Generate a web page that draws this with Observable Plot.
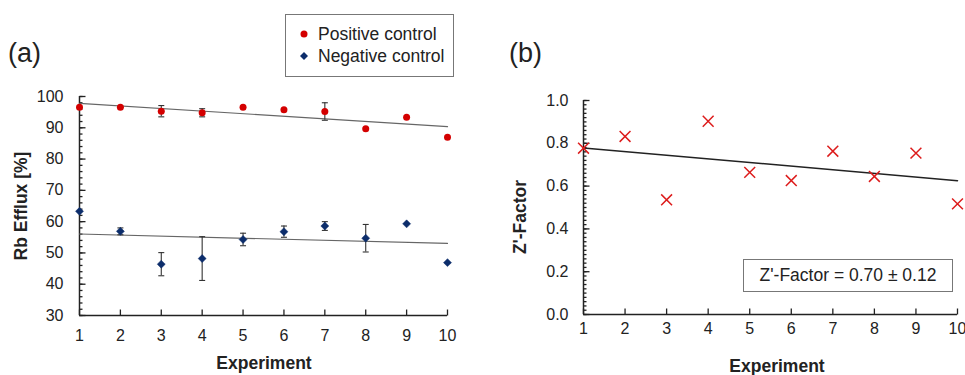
<!DOCTYPE html>
<html>
<head>
<meta charset="utf-8">
<script src="https://cdn.jsdelivr.net/npm/d3@7"></script>
<script src="https://cdn.jsdelivr.net/npm/@observablehq/plot@0.6"></script>
<style>
  html, body { margin: 0; padding: 0; background: #fff; overflow: hidden; }
  #wrap { position: relative; width: 965px; height: 375px; overflow: hidden; font-family: "Liberation Sans", Arial, sans-serif; color: #222; }
  .abs { position: absolute; white-space: nowrap; }
  .panel { font-size: 27px; line-height: 1; }
  .title { font-weight: bold; font-size: 17.5px; }
  .rot { transform: translate(-50%, -50%) rotate(-90deg); }
  .cx { transform: translate(-50%, -50%); }
  #legend { left: 285px; top: 14px; width: 167px; height: 61px; border: 1px solid #777; font-size: 17.5px; }
  #zbox { left: 743px; top: 259px; width: 208px; height: 31px; border: 1px solid #777; font-size: 17.5px; display: flex; align-items: center; justify-content: center; }
</style>
</head>
<body>
<div id="wrap">
  <div id="left" class="abs" style="left:0;top:0"></div>
  <div id="right" class="abs" style="left:483px;top:0"></div>
  <div class="abs panel" style="left:8px;top:40px">(a)</div>
  <div class="abs panel" style="left:509px;top:40px">(b)</div>
  <div class="abs title rot" style="left:21px;top:206px">Rb Efflux [%]</div>
  <div class="abs title rot" style="left:520px;top:217px">Z'-Factor</div>
  <div class="abs title cx" style="left:264px;top:363px">Experiment</div>
  <div class="abs title cx" style="left:777px;top:366px">Experiment</div>
  <div id="legend" class="abs"></div>
  <div id="zbox" class="abs">Z'-Factor = 0.70 ± 0.12</div>
</div>
<script>
// ---- data ----
const experiments = [1, 2, 3, 4, 5, 6, 7, 8, 9, 10];
const positiveMean = [96.6, 96.6, 95.3, 94.8, 96.6, 95.8, 95.2, 89.7, 93.4, 87.0];
const positiveErr  = [0, 0, 1.8, 1.3, 0, 0, 2.8, 0, 0, 0];
const negativeMean = [63.3, 56.9, 46.4, 48.2, 54.3, 56.8, 58.6, 54.7, 59.3, 46.9];
const negativeErr  = [0, 1.1, 3.7, 7.0, 2.0, 1.8, 1.4, 4.4, 0, 0];
const zFactor      = [0.777, 0.832, 0.536, 0.903, 0.664, 0.626, 0.763, 0.645, 0.754, 0.517];
const effluxTicks  = [30, 40, 50, 60, 70, 80, 90, 100];
const zTicks       = [0.0, 0.2, 0.4, 0.6, 0.8, 1.0];
const seriesNames  = ["Positive control", "Negative control"];
const seriesColors = ["#d40000", "#0c2d6b"];
const zColor = "#dd1c1c";

// ---- derived tables ----
const pos = experiments.map((x, i) => ({x, y: positiveMean[i], err: positiveErr[i]}));
const neg = experiments.map((x, i) => ({x, y: negativeMean[i], err: negativeErr[i]}));
const zrows = experiments.map((x, i) => ({x, z: zFactor[i]}));
const errRows = [...pos, ...neg].filter(d => d.err > 0);
const effluxMinor = d3.range(effluxTicks[0], effluxTicks[effluxTicks.length - 1] + 0.001, 2);
const zMinor = d3.range(0, 1.0001, 0.02);

// custom symbols (fixed pixel shapes)
const sym = (f) => ({draw(c) { f(c); }});
const tickRight = sym(c => { c.moveTo(0, 0); c.lineTo(6, 0); });
const tickRightMinor = sym(c => { c.moveTo(0, 0); c.lineTo(3, 0); });
const tickUp = sym(c => { c.moveTo(0, 0); c.lineTo(0, -6); });
const cap = sym(c => { c.moveTo(-3, 0); c.lineTo(3, 0); });

const baseStyle = {fontFamily: "'Liberation Sans', Arial, sans-serif", fontSize: "16px", color: "#222", background: "transparent", overflow: "visible"};
const tickStyle = {fill: "none", stroke: "#222", strokeWidth: 1.3, r: 2};

// ---- left panel ----
const left = Plot.plot({
  width: 480, height: 375,
  marginLeft: 79, marginRight: 33, marginTop: 96, marginBottom: 60,
  x: {domain: [experiments[0], experiments[experiments.length - 1]]},
  y: {domain: [effluxTicks[0], effluxTicks[effluxTicks.length - 1]]},
  style: baseStyle,
  marks: [
    Plot.axisX({ticks: experiments, tickSize: 0, tickPadding: 14, tickFormat: d => String(d), label: null, fontSize: 16}),
    Plot.axisY({ticks: effluxTicks, tickSize: 0, tickPadding: 16, tickFormat: d => String(d), label: null, fontSize: 16}),
    Plot.dot(effluxMinor, {x: experiments[0], y: d => d, symbol: tickRightMinor, ...tickStyle}),
    Plot.dot(effluxTicks, {x: experiments[0], y: d => d, symbol: tickRight, ...tickStyle}),
    Plot.dot(experiments, {x: d => d, y: effluxTicks[0], symbol: tickUp, ...tickStyle}),
    Plot.ruleX([experiments[0]], {stroke: "#222", strokeWidth: 1.5}),
    Plot.ruleY([effluxTicks[0]], {stroke: "#222", strokeWidth: 1.5}),
    Plot.linearRegressionY(pos, {x: "x", y: "y", ci: 0, stroke: "#666", strokeWidth: 1.2}),
    Plot.linearRegressionY(neg, {x: "x", y: "y", ci: 0, stroke: "#666", strokeWidth: 1.2}),
    Plot.ruleX(errRows, {x: "x", y1: d => d.y - d.err, y2: d => d.y + d.err, stroke: "#333", strokeWidth: 1.1}),
    Plot.dot(errRows, {x: "x", y: d => d.y - d.err, symbol: cap, fill: "none", stroke: "#333", strokeWidth: 1.1, r: 2}),
    Plot.dot(errRows, {x: "x", y: d => d.y + d.err, symbol: cap, fill: "none", stroke: "#333", strokeWidth: 1.1, r: 2}),
    Plot.dot(pos, {x: "x", y: "y", r: 3.5, fill: seriesColors[0], stroke: "none"}),
    Plot.dot(neg, {x: "x", y: "y", r: 3.6, symbol: "diamond2", fill: seriesColors[1], stroke: seriesColors[1], strokeWidth: 0.5})
  ]
});
document.getElementById("left").appendChild(left);

// ---- right panel ----
const right = Plot.plot({
  width: 482, height: 375,
  marginLeft: 100, marginRight: 8, marginTop: 100, marginBottom: 61,
  x: {domain: [experiments[0], experiments[experiments.length - 1]]},
  y: {domain: [zTicks[0], zTicks[zTicks.length - 1]]},
  style: baseStyle,
  marks: [
    Plot.axisX({ticks: experiments, tickSize: 0, tickPadding: 8, tickFormat: d => String(d), label: null, fontSize: 16}),
    Plot.axisY({ticks: zTicks, tickSize: 0, tickPadding: 15, tickFormat: d3.format(".1f"), label: null, fontSize: 16}),
    Plot.dot(zMinor, {x: experiments[0], y: d => d, symbol: tickRightMinor, ...tickStyle}),
    Plot.dot(zTicks, {x: experiments[0], y: d => d, symbol: tickRight, ...tickStyle}),
    Plot.dot(experiments, {x: d => d, y: zTicks[0], symbol: tickUp, ...tickStyle}),
    Plot.ruleX([experiments[0]], {stroke: "#222", strokeWidth: 1.5}),
    Plot.ruleY([zTicks[0]], {stroke: "#222", strokeWidth: 1.5}),
    Plot.linearRegressionY(zrows, {x: "x", y: "z", ci: 0, stroke: "#222", strokeWidth: 1.5}),
    Plot.dot(zrows, {x: "x", y: "z", r: 5, symbol: "times", stroke: zColor, strokeWidth: 1.5})
  ]
});
document.getElementById("right").appendChild(right);

// ---- legend ----
const legend = document.getElementById("legend");
const legendSymbols = [
  `<svg width="10" height="10" style="position:absolute;left:13px;top:-5px;overflow:visible"><circle cx="5" cy="5" r="3.5" fill="${seriesColors[0]}"/></svg>`,
  `<svg width="10" height="10" style="position:absolute;left:13px;top:-5px;overflow:visible"><path d="M5,1L9,5L5,9L1,5Z" fill="${seriesColors[1]}"/></svg>`
];
seriesNames.forEach((name, i) => {
  const row = document.createElement("div");
  row.style.cssText = `position:absolute;left:0;top:${19 + i * 22}px;height:0;`;
  row.innerHTML = legendSymbols[i] + `<span style="position:absolute;left:32px;top:-11px;line-height:22px">${name}</span>`;
  legend.appendChild(row);
});
</script>
</body>
</html>
